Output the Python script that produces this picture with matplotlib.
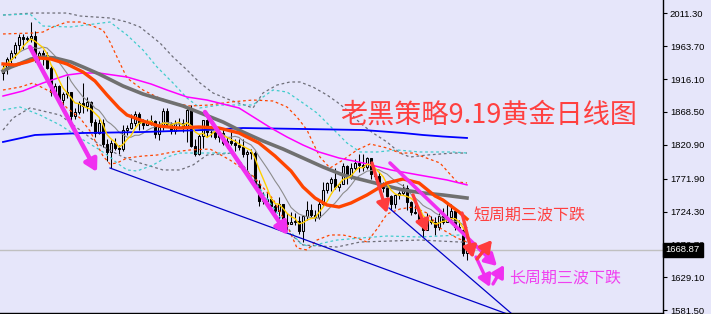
import matplotlib
matplotlib.use('Agg')
import matplotlib.pyplot as plt
import numpy as np
import pandas as pd

plt.rcParams['font.family'] = ['Noto Sans CJK SC', 'DejaVu Sans']

# daily candles, bar 0 is the first one on screen
opens = [1925, 1931, 1945, 1954, 1966, 1977, 1974, 1975, 1979, 1949, 1954, 1951, 1932, 1898, 1906, 1886, 1894,
         1897, 1863, 1868, 1881, 1877, 1883, 1854, 1838, 1853, 1822, 1811, 1824, 1816, 1815, 1842, 1846, 1853,
         1866, 1853, 1850, 1853, 1855, 1837, 1847, 1870, 1851, 1841, 1852, 1853, 1848, 1871, 1819, 1808, 1834,
         1857, 1840, 1839, 1832, 1838, 1823, 1827, 1823, 1820, 1818, 1807, 1811, 1809, 1764, 1739, 1740, 1742,
         1733, 1725, 1735, 1710, 1707, 1709, 1711, 1696, 1718, 1727, 1719, 1717, 1735, 1756, 1766, 1772, 1760,
         1765, 1791, 1775, 1788, 1795, 1792, 1789, 1802, 1779, 1776, 1761, 1758, 1747, 1736, 1748, 1751, 1758,
         1738, 1724, 1723, 1711, 1697, 1712, 1710, 1702, 1718, 1709, 1717, 1725, 1702, 1697, 1665]
highs = [1937, 1948, 1958, 1970, 1981, 1982, 1978, 1998, 1986, 1957, 1958, 1955, 1935, 1911, 1908, 1897, 1920,
         1898, 1874, 1884, 1910, 1890, 1885, 1858, 1858, 1858, 1830, 1828, 1831, 1820, 1849, 1850, 1865, 1870,
         1869, 1858, 1858, 1864, 1857, 1855, 1874, 1874, 1854, 1857, 1860, 1858, 1875, 1878, 1829, 1836, 1857,
         1858, 1844, 1843, 1847, 1846, 1833, 1841, 1830, 1829, 1829, 1813, 1815, 1812, 1770, 1752, 1752, 1745,
         1736, 1745, 1736, 1722, 1724, 1723, 1718, 1720, 1739, 1735, 1726, 1740, 1767, 1767, 1774, 1788, 1765,
         1795, 1792, 1795, 1800, 1808, 1807, 1803, 1802, 1784, 1781, 1767, 1764, 1749, 1750, 1754, 1765, 1763,
         1740, 1740, 1728, 1713, 1722, 1718, 1716, 1723, 1729, 1735, 1735, 1727, 1712, 1699, 1678]
lows = [1915, 1923, 1940, 1947, 1958, 1960, 1970, 1970, 1941, 1940, 1936, 1931, 1891, 1893, 1881, 1872, 1889,
        1850, 1858, 1865, 1867, 1870, 1848, 1832, 1836, 1818, 1797, 1787, 1813, 1807, 1812, 1835, 1844, 1848,
        1843, 1844, 1849, 1850, 1831, 1828, 1843, 1848, 1837, 1836, 1846, 1840, 1825, 1818, 1805, 1806, 1817,
        1833, 1832, 1830, 1825, 1820, 1816, 1821, 1812, 1814, 1803, 1784, 1801, 1764, 1732, 1735, 1735, 1728,
        1722, 1707, 1697, 1698, 1706, 1705, 1692, 1681, 1712, 1715, 1711, 1713, 1732, 1751, 1754, 1757, 1754,
        1764, 1764, 1771, 1784, 1782, 1783, 1786, 1772, 1771, 1759, 1753, 1746, 1727, 1729, 1743, 1749, 1727,
        1719, 1721, 1707, 1688, 1697, 1706, 1691, 1697, 1707, 1709, 1712, 1697, 1696, 1660, 1654]
closes = [1931, 1945, 1954, 1966, 1977, 1974, 1975, 1979, 1949, 1954, 1951, 1932, 1898, 1906, 1886, 1894, 1897,
          1863, 1868, 1881, 1877, 1883, 1854, 1838, 1853, 1822, 1811, 1824, 1816, 1815, 1842, 1846, 1853, 1866,
          1853, 1850, 1853, 1855, 1837, 1847, 1870, 1851, 1841, 1852, 1853, 1848, 1871, 1819, 1808, 1834, 1857,
          1840, 1839, 1832, 1838, 1823, 1827, 1823, 1820, 1818, 1807, 1811, 1809, 1764, 1739, 1740, 1742, 1733,
          1725, 1735, 1710, 1707, 1709, 1711, 1696, 1718, 1727, 1719, 1717, 1735, 1756, 1766, 1772, 1760, 1765,
          1791, 1775, 1788, 1795, 1792, 1789, 1802, 1779, 1776, 1761, 1758, 1747, 1736, 1748, 1751, 1758, 1738,
          1724, 1723, 1711, 1697, 1712, 1710, 1702, 1718, 1709, 1717, 1725, 1702, 1697, 1665, 1668.87]
last_price = 1668.87

price_ticks = [2011.30, 1963.70, 1916.10, 1868.50, 1820.90, 1771.90, 1724.30, 1676.70, 1629.10, 1581.50]

ma20 = [(0, 1938), (3, 1936.5), (6, 1940.8), (9, 1946.6), (12, 1945.2), (16, 1937.9), (20, 1926.3),
        (23, 1913.3), (26, 1893.1), (29, 1874.3), (31, 1864.1), (35, 1855.4), (39, 1848.2), (44, 1845.3),
        (49, 1846.8), (54, 1845.3), (59, 1838.1), (64, 1823.6), (68, 1804.8), (72, 1783.1), (75, 1760.0),
        (78, 1744.0), (81, 1733.9), (84, 1731.0), (87, 1736.8), (91, 1748.4), (96, 1765.8), (100, 1771.5),
        (104, 1765.8), (108, 1747.0), (110, 1741.1), (114, 1723.8), (116, 1713.6)]
ma50 = [(0, 1927.8), (2, 1933.6), (4, 1937.9), (7, 1945.2), (10, 1948.1), (13, 1946.6), (17, 1940.8),
        (20, 1933.6), (24, 1923.5), (27, 1914.8), (30, 1906.1), (35, 1894.5), (40, 1885.8), (45, 1877.2),
        (50, 1865.6), (55, 1854.0), (60, 1839.5), (65, 1826.5), (70, 1814.9), (75, 1801.9), (80, 1788.9),
        (85, 1777.3), (90, 1770.1), (95, 1762.8), (100, 1755.6), (105, 1751.3), (110, 1748.4), (116, 1744.0)]
ma100 = [(0, 1891.6), (5, 1898.9), (10, 1910.5), (16, 1922.0), (20, 1924.9), (24, 1924.9), (31, 1919.1),
         (37, 1909.0), (41, 1900.3), (46, 1890.2), (51, 1885.8), (56, 1878.6), (59, 1874.3), (63, 1859.8),
         (67, 1845.3), (71, 1832.3), (75, 1820.7), (79, 1810.6), (84, 1801.9), (90, 1794.7), (97, 1784.6),
         (104, 1777.3), (111, 1770.1), (116, 1763.0)]
ma200 = [(0, 1825.1), (8, 1835.2), (20, 1838.1), (35, 1839.5), (50, 1842.4), (60, 1845.3), (75, 1843.9),
         (90, 1842.4), (95, 1840.3), (100, 1838.1), (105, 1835.2), (110, 1833.0), (116, 1830.9)]

bb_orange_up = [(0, 1981.4), (7.5, 1982.8), (10, 1984.2), (12.5, 1991.5), (16, 1998.7), (19.25, 1998.7),
                (21.75, 1994.4), (25, 1987.1), (26.75, 1969.8), (28.5, 1948.1), (31, 1917.7), (35, 1900.3),
                (38.5, 1890.2), (42.5, 1881.5), (46.75, 1877.2), (51.75, 1878.6), (56.75, 1882.9), (62.5, 1885.8),
                (67.5, 1884.4), (71, 1875.7), (73.5, 1861.2), (76, 1842.4), (77.5, 1823.6), (79.25, 1803.3),
                (81.75, 1787.4), (85, 1799.0), (88.5, 1813.5), (91.75, 1822.2), (96, 1816.4), (99.25, 1809.1),
                (102.5, 1809.1), (109.25, 1794.7), (113.5, 1767.2), (116, 1765.8)]
bb_orange_lo = [(0, 1900.3), (4.25, 1904.6), (7.5, 1910.5), (12.5, 1896.0), (16, 1874.3), (19.25, 1859.8),
                (21.75, 1841.0), (25, 1804.8), (26.75, 1793.2), (28.5, 1794.7), (31, 1801.9), (35, 1804.8),
                (38.5, 1806.2), (42.5, 1810.6), (46.75, 1813.5), (51.75, 1814.9), (56.75, 1799.0), (62.5, 1775.9),
                (67.5, 1742.6), (71, 1705.0), (73.5, 1671.7), (76, 1668.8), (78.5, 1683.2), (81.75, 1690.5),
                (85, 1690.5), (88.5, 1686.1), (91, 1680.3), (93.5, 1699.2), (96, 1720.9), (99.25, 1728.1),
                (102.5, 1731.0), (106, 1722.3), (109.25, 1700.6), (113.5, 1686.1), (116, 1680.3)]
bb_cyan_up = [(0, 2008.8), (6.75, 2010.3), (10, 1992.9), (16.75, 1991.5), (26.75, 1998.7), (31, 1979.9),
              (35, 1958.2), (38.5, 1933.6), (42.5, 1910.5), (46, 1888.7), (49.25, 1874.3), (54.25, 1878.6),
              (62.5, 1878.6), (65, 1890.2), (67.5, 1900.3), (71, 1897.4), (75, 1881.5), (78.5, 1867.0),
              (81, 1852.6), (83.5, 1838.1), (86, 1823.6), (89.25, 1810.6), (93.5, 1810.6), (98.5, 1813.5),
              (104.25, 1810.6), (112.5, 1810.6), (116, 1809.1)]
bb_cyan_lo = [(0, 1871.4), (4.25, 1875.7), (9.25, 1864.1), (14.25, 1849.7), (19.25, 1830.9), (24.25, 1813.5),
              (26.75, 1803.3), (28.5, 1794.7), (31, 1784.6), (33.5, 1783.1), (37.5, 1791.8), (41, 1803.3),
              (44.25, 1809.1), (57.5, 1809.1), (62.5, 1770.1), (65, 1751.3), (67.5, 1731.0), (71, 1702.1),
              (74.25, 1678.9), (76.75, 1673.1), (80, 1678.9), (83.5, 1683.2), (89.25, 1686.1), (96, 1689.0),
              (104.25, 1687.6), (114.25, 1690.5), (116, 1690.5)]
bb_grey_up = [(0, 2008.8), (7.5, 2011.7), (16, 2011.7), (19.25, 2007.4), (26.75, 2004.5), (31, 1998.7),
              (34.25, 1991.5), (39.25, 1968.3), (42.5, 1948.1), (46, 1929.3), (49.25, 1910.5), (52.5, 1896.0),
              (56.75, 1885.8), (62.5, 1874.3), (65, 1896.0), (68.5, 1907.5), (71.75, 1911.9), (74.25, 1911.9),
              (77.5, 1904.6), (81, 1893.1), (83.5, 1882.9), (86, 1871.4), (89.25, 1852.6), (92.5, 1838.1),
              (96, 1825.1), (99.25, 1809.1), (101.75, 1803.3), (106, 1806.2), (112.5, 1809.1), (116, 1809.1)]
bb_grey_lo = [(0, 1842.4), (2.5, 1859.8), (6.75, 1874.3), (14.25, 1864.1), (19.25, 1842.4), (24.25, 1820.7),
              (30, 1803.3), (34.25, 1794.7), (40, 1784.6), (44.25, 1784.6), (47.5, 1791.8), (51, 1806.2),
              (57.5, 1809.1), (63, 1770.1), (69.25, 1705.0), (75, 1676.0), (83.5, 1673.1), (89.25, 1680.3),
              (104.25, 1683.2), (114.25, 1680.3), (116, 1680.3)]

trend_lines = [((26.75, 1787.4), (126.75, 1574.7)),
               ((96.5, 1729.6), (127.25, 1576.2))]
magenta_arrows = [((6.75, 1962.5), (23.5, 1781.6), 3.2),
                  ((50.5, 1868.5), (71.25, 1690.5), 3.2),
                  ((96.75, 1794.7), (123.5, 1645.6), 2.6),
                  ((118.25, 1658.6), (121.75, 1615.2), 2.4),
                  ((122.5, 1619.6), (125.25, 1647.1), 2.4)]
red_arrows = [((92.25, 1794.7), (96, 1722.3)),
              ((102.5, 1748.4), (106, 1694.8)),
              ((114.75, 1722.3), (117.5, 1657.2)),
              ((118.5, 1655.7), (122.25, 1683.2))]

title = '老黑策略9.19黄金日线图'
note_short = '短周期三波下跌'
note_long = '长周期三波下跌'

bg = '#E6E6FA'
fig = plt.figure(figsize=(7.11, 3.14), dpi=100, facecolor=bg)
ax = fig.add_axes([0, 1 / 314, 663 / 711, 313 / 314], facecolor=bg)

n = len(closes)
idx = np.arange(n)
o = np.array(opens, float)
c = np.array(closes, float)

# candles
ax.vlines(idx, lows, highs, color='black', lw=0.75, zorder=2)
up = c >= o
body = np.abs(c - o)
body = np.where(body < 0.8, 0.8, body)
ax.bar(idx[up], body[up], bottom=o[up], width=0.5, facecolor=bg, edgecolor='black', lw=0.75, zorder=2.1)
ax.bar(idx[~up], body[~up], bottom=c[~up], width=0.5, facecolor='black', edgecolor='black', lw=0.75, zorder=2.1)

# short averages straight from the closes
s = pd.Series(c)
ax.plot(idx, s.rolling(10, min_periods=1).mean(), color='#8C8C8C', lw=0.8, zorder=3)
ax.plot(idx, s.rolling(5, min_periods=1).mean(), color='#FFD000', lw=1.0, zorder=3.2)

def line(pts, **kw):
    xs, ys = zip(*pts)
    ax.plot(xs, ys, **kw)

dash = (0, (2.2, 2.2))
line(bb_grey_up, color='#6E6E78', lw=0.9, ls=dash, zorder=2.5)
line(bb_grey_lo, color='#6E6E78', lw=0.9, ls=dash, zorder=2.5)
line(bb_cyan_up, color='#40CCCC', lw=0.9, ls=dash, zorder=2.5)
line(bb_cyan_lo, color='#40CCCC', lw=0.9, ls=dash, zorder=2.5)
line(bb_orange_up, color='#FF4500', lw=0.9, ls=dash, zorder=2.5)
line(bb_orange_lo, color='#FF4500', lw=0.9, ls=dash, zorder=2.5)

line(ma200, color='#0000FF', lw=1.3, zorder=3)
line(ma100, color='#FF00FF', lw=1.1, zorder=3)
line(ma50, color='#707070', lw=2.6, zorder=3.1)
line(ma20, color='#FF4500', lw=2.4, zorder=3.3)

for a, b in trend_lines:
    ax.plot([a[0], b[0]], [a[1], b[1]], color='#0000C8', lw=0.9, zorder=3)

ax.axhline(last_price, color='#C0C0C0', lw=1.0, zorder=1)

for a, b, w in magenta_arrows:
    ax.annotate('', xy=b, xytext=a, zorder=5,
                arrowprops=dict(arrowstyle='-|>,head_length=0.7,head_width=0.4', lw=w,
                                color='#F030F0', shrinkA=0, shrinkB=0))
for a, b in red_arrows:
    ax.annotate('', xy=b, xytext=a, zorder=5,
                arrowprops=dict(arrowstyle='-|>,head_length=0.7,head_width=0.4', lw=2.4,
                                color='#FF3C3C', shrinkA=0, shrinkB=0))

ax.text(84.25, 1864.1, title, color='#FF4040', fontsize=19.5, ha='left', va='center', zorder=6)
ax.text(117.5, 1718.0, note_short, color='#FF4040', fontsize=11.5, ha='left', va='center', zorder=6)
ax.text(126.5, 1628.3, note_long, color='#F040F0', fontsize=11.5, ha='left', va='center', zorder=6)

ax.set_xlim(-0.75, 165)
ax.set_ylim(2030.55 - 1.4471 * 313, 2030.55)
ax.set_xticks([])
ax.yaxis.tick_right()
ax.set_yticks(price_ticks)
ax.set_yticklabels([f'{v:.2f}' for v in price_ticks], family='Liberation Sans')
ax.tick_params(axis='y', length=3, width=0.8, pad=2, labelsize=6.8, colors='black')
for side in ['left', 'top']:
    ax.spines[side].set_visible(False)
for side in ['right', 'bottom']:
    ax.spines[side].set_color('black')
    ax.spines[side].set_linewidth(1.0)

ax.text(1.004, last_price, f'{last_price:.2f}', transform=ax.get_yaxis_transform(), color='white',
        fontsize=6.8, family='Liberation Sans', ha='left', va='center', clip_on=False, zorder=10,
        bbox=dict(boxstyle='square,pad=0.3', fc='black', ec='black'))

fig.savefig('out.png', dpi=100, facecolor=bg)
